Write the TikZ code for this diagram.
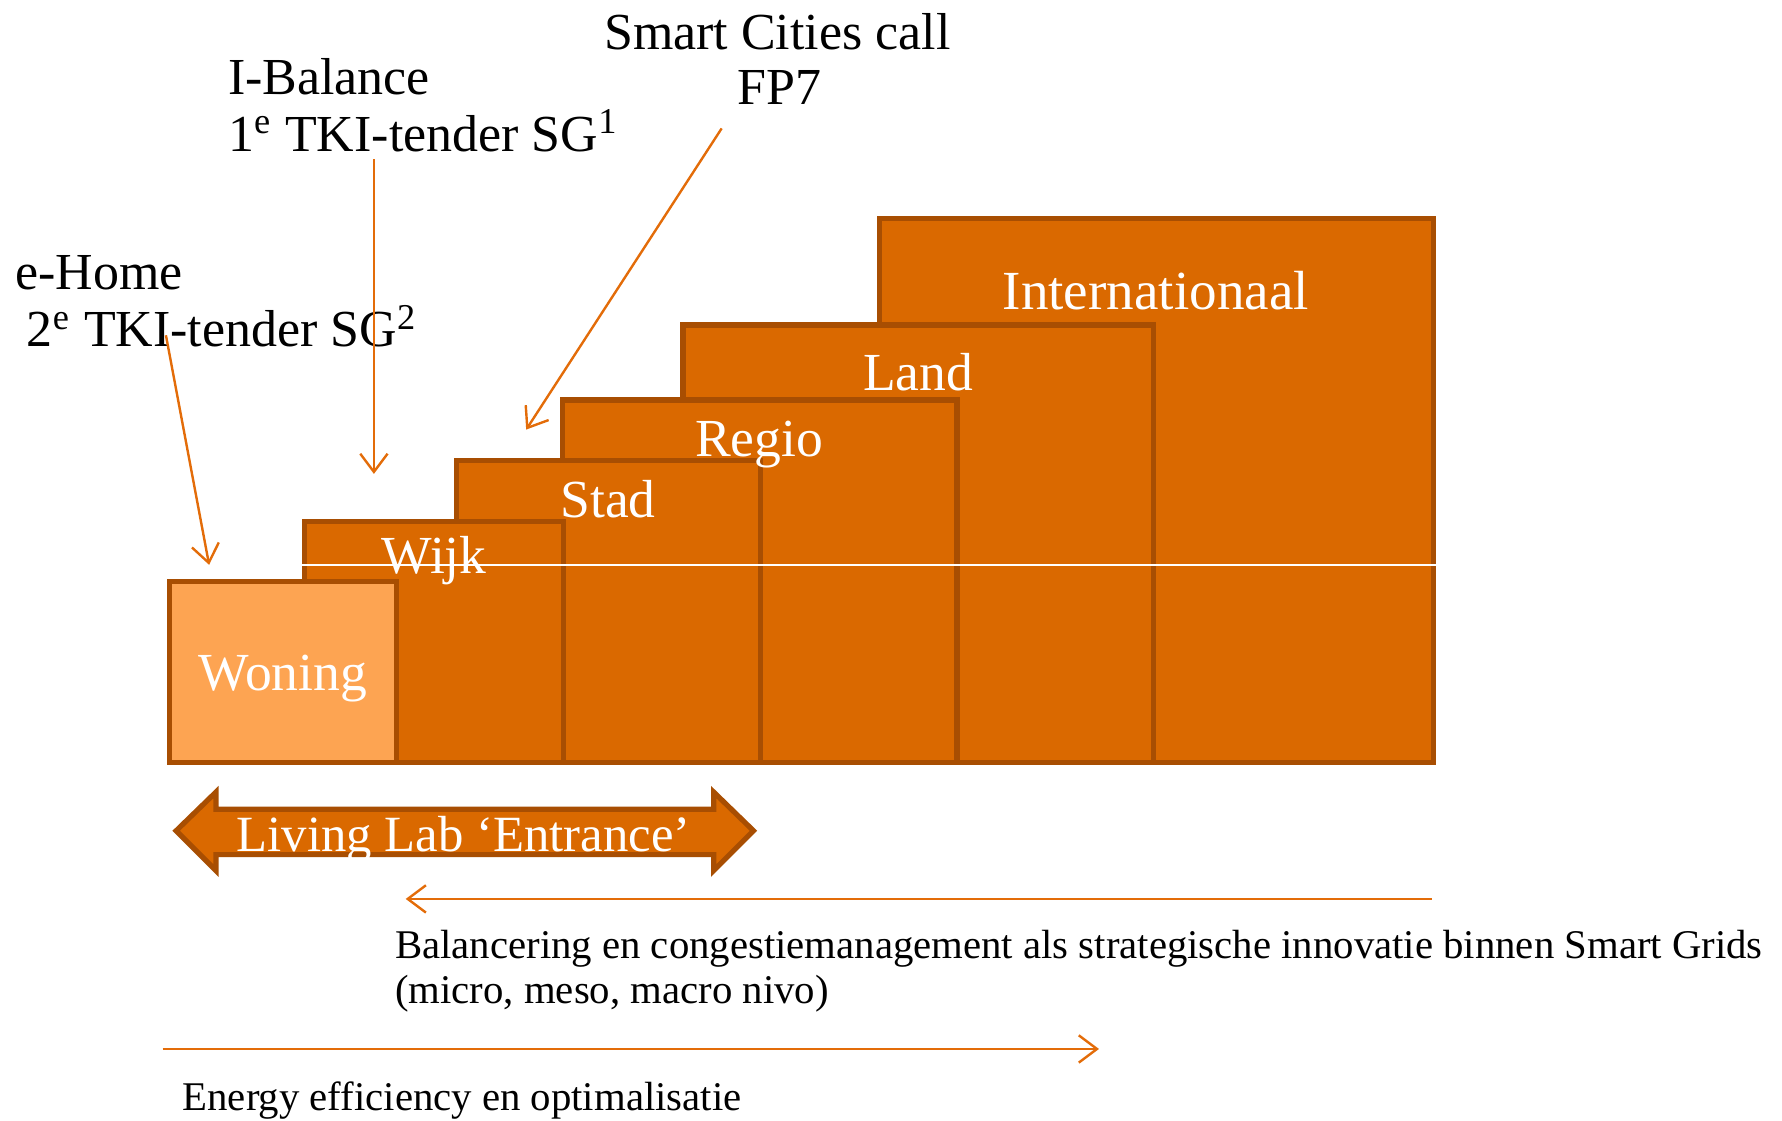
\documentclass[tikz,border=0pt]{standalone}
\usepackage{fontspec}
\setmainfont{Liberation Serif}
\usetikzlibrary{fit}
\usetikzlibrary{arrows.meta}
\definecolor{tierfill}{RGB}{218,105,0}
\definecolor{tieredge}{RGB}{168,78,2}
\definecolor{homefill}{RGB}{253,164,82}
\definecolor{pointerline}{RGB}{227,108,9}
\tikzstyle{tierbox}=[draw=tieredge, fill=tierfill, line width=1.3pt, inner sep=0pt]
\tikzstyle{homebox}=[tierbox, fill=homefill]
\tikzstyle{tierlabel}=[text=white, font=\fontsize{13.4}{16}\selectfont, anchor=base, inner sep=0pt]
\tikzstyle{projectlabel}=[font=\fontsize{13}{15}\selectfont, anchor=base west, inner sep=0pt]
\tikzstyle{note}=[font=\fontsize{10.2}{12}\selectfont, anchor=base west, inner sep=0pt]
\tikzstyle{pointer}=[draw=pointerline, line width=0.6pt, -{Straight Barb[length=1.6mm,width=2.4mm]}]

\begin{document}
\begin{tikzpicture}[x=0.01cm, y=-0.01cm]
      \useasboundingbox (0,0) rectangle (1568,986);
      % scale levels, back to front
      \node[tierbox, fit={(774,192) (1261,671)}] (intl) {};
      \node[tierbox, fit={(601,286) (1015,671)}] (land) {};
      \node[tierbox, fit={(495,352) (842,671)}] (regio) {};
      \node[tierbox, fit={(402,405) (669,671)}] (stad) {};
      \node[tierbox, fit={(268,459) (496,671)}] (wijk) {};
      \node[homebox, fit={(149,512) (349,671)}] (woning) {};
      \draw[white, line width=0.5pt] (wijk.west |- 0,497) -- (intl.east |- 0,497);
      \node[tierlabel, font=\fontsize{13.8}{16}\selectfont] (intltext) at (1017,272) {Internationaal};
      \node[tierlabel] (landtext) at (808,344) {Land};
      \node[tierlabel] (regiotext) at (668,402) {Regio};
      \node[tierlabel] (stadtext) at (535,455) {Stad};
      \node[tierlabel] (wijktext) at (382,505) {Wijk};
      \node[tierlabel] (woningtext) at (249,608) {Woning};

      % living lab
      \draw[tierbox] (155,731) -- (190,697) -- (190,712) -- (628,712) -- (628,697)
        -- (663,731) -- (628,766) -- (628,752) -- (190,752) -- (190,766) -- cycle;
      \node[tierlabel, font=\fontsize{12.7}{15}\selectfont] (livinglab) at (408,749) {Living Lab ‘Entrance’};

      % projects
      \node[projectlabel, anchor=base] (smart1) at (684,44) {Smart Cities call};
      \node[projectlabel, anchor=base] (smart2) at (686,92) {FP7};
      \node[projectlabel] (ibal1) at (200,83) {I-Balance};
      \node[projectlabel] (ibal2) at (200,133) {1\textsuperscript{e} TKI-tender SG\textsuperscript{1}};
      \node[projectlabel] (ehome1) at (13,255) {e-Home};
      \node[projectlabel] (ehome2) at (23,305) {2\textsuperscript{e} TKI-tender SG\textsuperscript{2}};
      \coordinate (smartfrom) at (635,113);
      \coordinate (smartto) at (463,378);
      \coordinate (ibalfrom) at (329,140);
      \coordinate (ibalto) at (329,417);
      \coordinate (ehomefrom) at (146,295);
      \coordinate (ehometo) at (184,497);
      \draw[pointer] (smartfrom) to (smartto);
      \draw[pointer] (ibalfrom) to (ibalto);
      \draw[pointer] (ehomefrom) to (ehometo);

      % directions
      \coordinate (balfrom) at (1260,791);
      \coordinate (balto) at (357,791);
      \coordinate (effrom) at (143,923);
      \coordinate (efto) at (967,923);
      \draw[pointer] (balfrom) to (balto);
      \draw[pointer] (effrom) to (efto);
      \node[note] (bal1) at (347,843) {Balancering en congestiemanagement als strategische innovatie binnen Smart Grids};
      \node[note] (bal2) at (347,883) {(micro, meso, macro nivo)};
      \node[note] (eff) at (160,977) {Energy efficiency en optimalisatie};
    \end{tikzpicture}
\end{document}
